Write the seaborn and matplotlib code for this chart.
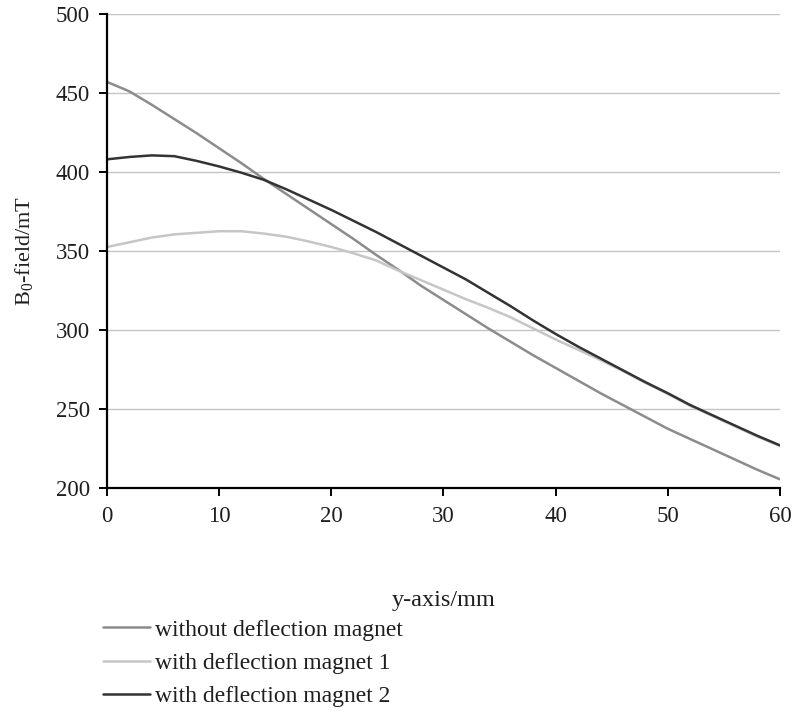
import pandas as pd
import matplotlib
matplotlib.use("Agg")
import matplotlib.pyplot as plt
import seaborn as sns

# positions along the y-axis in mm
pos_mm = [0, 2, 4, 6, 8, 10, 12, 14, 16, 18, 20, 22, 24, 26, 28, 30,
          32, 34, 36, 38, 40, 42, 44, 46, 48, 50, 52, 54, 56, 58, 60]

# B0 field in mT
without_magnet = [457, 451, 442.5, 433.5, 424.5, 415, 405.5, 395.5, 386, 376.5,
                  367, 357.5, 347.5, 338, 328, 319, 310, 301, 292.5, 284,
                  276, 268, 260, 252.5, 245, 237.5, 231, 224.5, 218, 211.5, 205.5]
with_magnet_1 = [352.5, 355.5, 358.5, 360.5, 361.5, 362.5, 362.5, 361, 359, 356,
                 352.5, 348.5, 344, 337.5, 331.5, 325.5, 319.5, 314, 308, 301,
                 294, 287.5, 281, 274, 266.5, 259.5, 252, 245.5, 239, 232.5, 226.5]
with_magnet_2 = [408, 409.5, 410.5, 410, 407, 403.5, 399.5, 395, 389, 382.5,
                 376, 369, 362, 354.5, 347, 339.5, 332, 323.5, 315, 306,
                 297.5, 289.5, 282, 274.5, 267, 260, 252.5, 246, 239.5, 233, 227]

series_names = ["without deflection magnet", "with deflection magnet 1",
                "with deflection magnet 2"]
colors = ["#8c8c8c", "#c6c6c6", "#333333"]

rows = []
for name, vals in zip(series_names, [without_magnet, with_magnet_1, with_magnet_2]):
    for x, v in zip(pos_mm, vals):
        rows.append({"y-axis/mm": x, "B0": v, "series": name})
df = pd.DataFrame(rows)

sns.set_theme(style="white")
plt.rcParams["font.family"] = ["Liberation Serif", "DejaVu Serif"]
plt.rcParams["mathtext.fontset"] = "custom"
plt.rcParams["mathtext.rm"] = "Liberation Serif"
plt.rcParams["mathtext.it"] = "Liberation Serif:italic"

text_col = "#1e1e1e"

fig = plt.figure(figsize=(7.95, 7.13), dpi=100)
ax = fig.add_axes([0.1346, 0.3156, 0.8464, 0.6648])

sns.lineplot(data=df, x="y-axis/mm", y="B0", hue="series",
             hue_order=series_names, palette=dict(zip(series_names, colors)),
             linewidth=1.8, ax=ax)

ax.set_xlim(0, 60)
ax.set_ylim(200, 500)
ax.set_xticks(range(0, 61, 10))
ax.set_yticks(range(200, 501, 50))
ax.yaxis.grid(True, color="#c4c4c4", linewidth=1.0)
ax.set_axisbelow(True)

for s in ["top", "right"]:
    ax.spines[s].set_visible(False)
for s in ["left", "bottom"]:
    ax.spines[s].set_color("black")
    ax.spines[s].set_linewidth(1.6)

ax.tick_params(axis="both", which="major", direction="out", length=6,
               width=1.4, color="black", labelsize=16.5, labelcolor=text_col,
               left=True, bottom=True)
ax.tick_params(axis="x", pad=7)
ax.tick_params(axis="y", pad=6.5)

ax.set_xlabel("y-axis/mm", fontsize=17.5, color=text_col, labelpad=45)
ax.set_ylabel(r"B$_\mathrm{0}$-field/mT", fontsize=16, color=text_col, labelpad=15)

leg = ax.legend(loc="upper left", bbox_to_anchor=(103 / 795, 1 - 619 / 713),
                bbox_transform=fig.transFigure, frameon=False, fontsize=17,
                handlelength=2.0, handletextpad=0.2, labelspacing=0.5,
                borderpad=0, borderaxespad=0)
for t in leg.get_texts():
    t.set_color(text_col)

fig.savefig("out.png", dpi=100)
